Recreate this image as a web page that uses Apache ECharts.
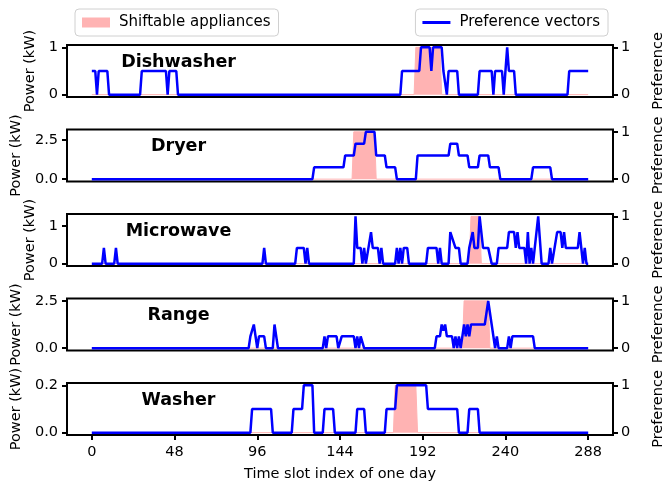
<!DOCTYPE html>
<html>
<head>
<meta charset="utf-8">
<script src="https://cdn.jsdelivr.net/npm/echarts@6/dist/echarts.min.js"></script>
<style>
  html, body { margin: 0; padding: 0; background: #fff; }
  #chart { width: 667px; height: 484px; }
</style>
</head>
<body>
<div id="chart"></div>
<script>
const a = 1 / 3, b = 2 / 3;

const appliances = ['Dishwasher', 'Dryer', 'Microwave', 'Range', 'Washer'];
const slotTicks = [0, 48, 96, 144, 192, 240, 288];
const powerMax = [1, 3.0, 1.26, 2.5, 0.2];
const powerTicks = [[0, 1], [0, 2.5], [0, 1], [0, 2.5], [0, 0.2]];
const powerTickLabels = [['0', '1'], ['0.0', '2.5'], ['0', '1'], ['0.0', '2.5'], ['0.0', '0.2']];
const prefTicks = [0, 1];

// power of the shiftable appliance, [slot, kW]
const dishwasherPower = [[0, 0], [187, 0], [188, 1], [202, 1], [203, 0], [288, 0]];
const dryerPower = [[0, 0], [151, 0], [152, 3.0], [164, 3.0], [165, 0], [288, 0]];
const microwavePower = [[0, 0], [219, 0], [220, 1.26], [225, 1.26], [226, 0], [288, 0]];
const rangePower = [[0, 0], [215, 0], [216, 2.5], [230, 2.5], [231, 0], [288, 0]];
const washerPower = [[0, 0], [175, 0], [176, 0.2], [188, 0.2], [189, 0], [288, 0]];

// preference vectors, [slot, preference]
const dishwasherPref = [[0, .5], [2, .5], [3, 0], [4, .5], [9, .5], [10, 0], [28, 0], [29, .5], [43, .5], [44, 0],
  [45, .5], [49, .5], [50, 0], [179, 0], [180, .5], [190, .5], [191, 1], [196, 1], [197, .5], [198, 1], [203, 1],
  [204, .5], [205, .5], [206, 0], [207, .5], [212, .5], [213, 0], [224, 0], [225, .5], [232, .5], [233, 0],
  [234, .5], [238, .5], [239, 0], [240, 0], [241, 1], [242, .5], [245, .5], [246, 0], [276, 0], [277, .5], [288, .5]];
const dryerPref = [[0, 0], [128, 0], [129, .25], [146, .25], [147, .5], [152, .5], [153, .75], [158, .75], [159, 1],
  [164, 1], [165, .5], [170, .5], [171, .25], [176, .25], [177, 0], [188, 0], [189, .5], [207, .5], [208, .75],
  [212, .75], [213, .5], [218, .5], [219, .25], [224, .25], [225, .5], [230, .5], [231, .25], [236, .25], [237, 0],
  [255, 0], [256, .25], [266, .25], [267, 0], [288, 0]];
const microwavePref = [[0, 0], [6, 0], [7, a], [8, 0], [13, 0], [14, a], [15, 0], [99, 0], [100, a], [101, 0],
  [118, 0], [119, a], [123, a], [124, 0], [125, a], [126, 0], [152, 0], [153, 1], [154, a], [156, a], [157, 0],
  [158, a], [159, 0], [160, 0], [162, b], [163, a], [166, a], [167, 0], [168, a], [169, 0], [176, 0], [177, a],
  [178, 0], [179, a], [180, 0], [181, a], [183, a], [184, 0], [194, 0], [195, a], [200, a], [201, 0], [202, a],
  [203, 0], [207, 0], [208, b], [209, b], [211, a], [213, a], [214, 0], [218, 0], [219, a], [221, b], [222, a],
  [224, a], [225, 1], [227, a], [230, a], [232, 0], [235, 0], [236, a], [241, a], [242, b], [245, b], [246, a],
  [247, b], [248, a], [251, a], [252, 0], [253, b], [254, 0], [255, a], [256, 0], [259, 1], [261, 0], [265, 0],
  [266, a], [267, 0], [270, b], [272, b], [273, a], [274, b], [275, a], [282, a], [283, b], [285, 0], [286, a],
  [287, 0], [288, 0]];
const rangePref = [[0, 0], [91, 0], [92, .25], [93, .25], [94, .5], [96, 0], [97, .25], [100, .25], [101, 0],
  [105, 0], [106, .5], [107, .5], [108, 0], [134, 0], [135, .25], [136, 0], [137, .25], [142, .25], [143, 0],
  [145, .25], [152, .25], [153, 0], [154, .25], [155, 0], [156, .25], [157, .25], [158, 0], [199, 0], [200, .25],
  [202, .25], [203, .5], [204, .37], [205, .5], [206, .25], [209, .25], [210, 0], [211, .25], [212, 0], [213, .25],
  [214, 0], [216, .5], [217, .25], [218, .5], [219, .25], [220, .5], [228, .5], [230, 1], [232, .5], [234, 0],
  [235, .25], [236, 0], [241, 0], [242, .25], [243, 0], [244, .25], [256, .25], [257, 0], [288, 0]];
const washerPref = [[0, 0], [92, 0], [93, .5], [104, .5], [105, 0], [116, 0], [117, .5], [122, .5], [123, 1],
  [128, 1], [129, 0], [134, 0], [135, .5], [140, .5], [141, 0], [153, 0], [154, .5], [158, .5], [159, 0],
  [170, 0], [171, .5], [176, .5], [177, 1], [194, 1], [195, .5], [212, .5], [213, 0], [218, 0], [219, .5],
  [224, .5], [225, 0], [288, 0]];

const powerData = [dishwasherPower, dryerPower, microwavePower, rangePower, washerPower];
const prefData = [dishwasherPref, dryerPref, microwavePref, rangePref, washerPref];

const FONT = 'DejaVu Sans';
const PINK = '#ffb3b3';
const BLUE = '#0000ff';
const gridTop = 45, gridStep = 84.5, gridH = 52;
const powerNameGap = [28, 41, 28, 41, 41];

let chart = echarts.init(document.getElementById('chart'), null, { renderer: 'canvas' });

let grids = [], xAxes = [], yAxes = [], series = [], titles = [];

appliances.forEach((name, i) => {
  let top = gridTop + gridStep * i;
  let last = i === appliances.length - 1;
  grids.push({ left: 67, right: 54, top: top, height: gridH, show: true,
    outerBoundsMode: 'none', containLabel: false,
    borderColor: '#000', borderWidth: 2, backgroundColor: 'transparent' });

  xAxes.push({
    type: 'value', gridIndex: i, min: -14.4, max: 302.4,
    splitLine: { show: false },
    axisLine: { show: false, onZero: false },
    axisTick: { show: last, customValues: slotTicks, length: 5, lineStyle: { color: '#000', width: 2 } },
    axisLabel: { show: last, customValues: slotTicks, margin: 10, color: '#000', fontFamily: FONT, fontSize: 14.5 },
    name: last ? 'Time slot index of one day' : '',
    nameLocation: 'middle', nameGap: 32,
    nameTextStyle: { color: '#000', fontFamily: FONT, fontSize: 14.5 }
  });

  let m = powerMax[i];
  yAxes.push({
    type: 'value', gridIndex: i, position: 'left', min: -0.05 * m, max: 1.05 * m,
    splitLine: { show: false },
    axisLine: { show: false, onZero: false },
    axisTick: { show: true, customValues: powerTicks[i], length: 5, lineStyle: { color: '#000', width: 2 } },
    axisLabel: {
      customValues: powerTicks[i], margin: 9, color: '#000', fontFamily: FONT, fontSize: 14.5,
      formatter: v => powerTickLabels[i][powerTicks[i].indexOf(v)]
    },
    name: 'Power (kW)', nameLocation: 'middle', nameGap: powerNameGap[i], nameRotate: 90,
    nameTextStyle: { color: '#000', fontFamily: FONT, fontSize: 14.5 }
  });
  yAxes.push({
    type: 'value', gridIndex: i, position: 'right', min: -0.05, max: 1.05,
    splitLine: { show: false },
    axisLine: { show: false, onZero: false },
    axisTick: { show: true, customValues: prefTicks, length: 5, lineStyle: { color: '#000', width: 2 } },
    axisLabel: { customValues: prefTicks, margin: 8, color: '#000', fontFamily: FONT, fontSize: 14.5 },
    name: 'Preference', nameLocation: 'middle', nameGap: 38, nameRotate: 90,
    nameTextStyle: { color: '#000', fontFamily: FONT, fontSize: 14.5 }
  });

  series.push({
    name: 'Shiftable appliances', type: 'line', xAxisIndex: i, yAxisIndex: 2 * i,
    data: powerData[i], symbol: 'none', z: 1,
    lineStyle: { color: PINK, width: 1 }, itemStyle: { color: PINK },
    areaStyle: { color: PINK, opacity: 1, origin: 'auto' }
  });
  series.push({
    name: 'Preference vectors', type: 'line', xAxisIndex: i, yAxisIndex: 2 * i + 1,
    data: prefData[i], symbol: 'none', z: 3,
    lineStyle: { color: BLUE, width: 2.5 }, itemStyle: { color: BLUE }
  });

  titles.push({
    type: 'text', x: 178.5, y: top + 17,
    style: { text: name, fontFamily: FONT, fontSize: 17.5, fontWeight: 'bold', fill: '#000',
      align: 'center', verticalAlign: 'middle' }
  });
});

let option = {
  animation: false,
  backgroundColor: '#fff',
  grid: grids,
  xAxis: xAxes,
  yAxis: yAxes,
  series: series,
  graphic: titles,
  legend: [
    {
      left: 75, top: 9, data: [{ name: 'Shiftable appliances', icon: 'rect' }],
      itemWidth: 28, itemHeight: 10, padding: [6, 8, 6, 7], selectedMode: false,
      borderColor: '#d0d0d0', borderWidth: 1, borderRadius: 4, backgroundColor: '#fff',
      itemStyle: { color: PINK },
      textStyle: { fontFamily: FONT, fontSize: 15, color: '#000', padding: [0, 0, 0, 4] }
    },
    {
      right: 59, top: 9, data: [{ name: 'Preference vectors', icon: 'rect' }],
      itemWidth: 28, itemHeight: 3, padding: [6, 8, 6, 7], selectedMode: false,
      borderColor: '#d0d0d0', borderWidth: 1, borderRadius: 4, backgroundColor: '#fff',
      itemStyle: { color: BLUE },
      textStyle: { fontFamily: FONT, fontSize: 15, color: '#000', padding: [0, 0, 0, 4] }
    }
  ]
};

chart.setOption(option);
</script>
</body>
</html>
